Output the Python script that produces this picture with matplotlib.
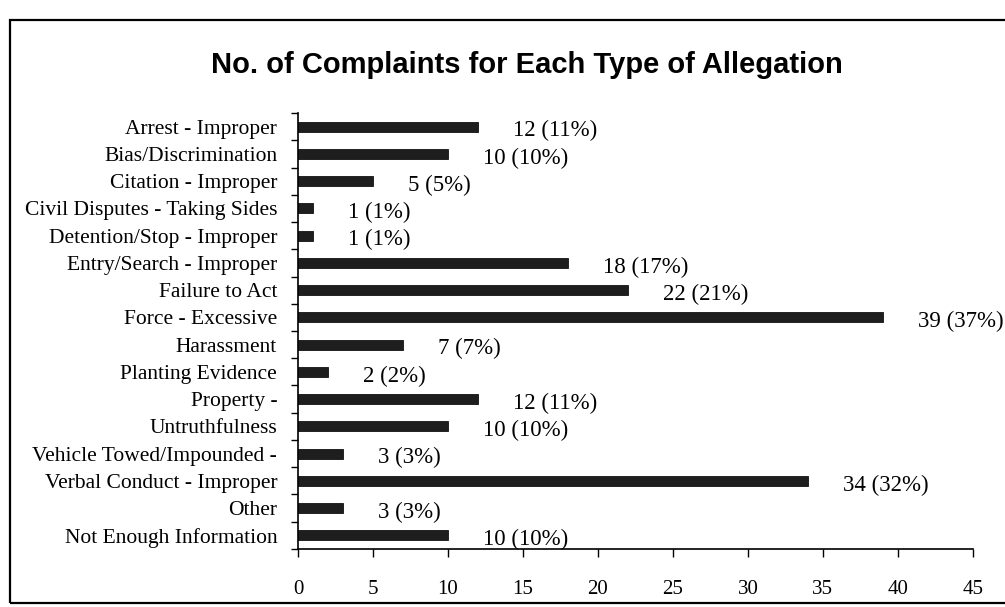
import numpy as np
import matplotlib.pyplot as plt
from matplotlib.patches import Rectangle

# Données
categories = [
    "Arrest - Improper",
    "Bias/Discrimination",
    "Citation - Improper",
    "Civil Disputes - Taking Sides",
    "Detention/Stop - Improper",
    "Entry/Search - Improper",
    "Failure to Act",
    "Force - Excessive",
    "Harassment",
    "Planting Evidence",
    "Property -",
    "Untruthfulness",
    "Vehicle Towed/Impounded -",
    "Verbal Conduct - Improper",
    "Other",
    "Not Enough Information",
]
counts = [12, 10, 5, 1, 1, 18, 22, 39, 7, 2, 12, 10, 3, 34, 3, 10]
percents = [11, 10, 5, 1, 1, 17, 21, 37, 7, 2, 11, 10, 3, 32, 3, 10]
x_ticks = [0, 5, 10, 15, 20, 25, 30, 35, 40, 45]

serif = "Liberation Serif"

fig = plt.figure(figsize=(10.05, 6.07), dpi=100)
ax = fig.add_axes([0.2965, 0.0956, 0.6715, 0.7182])

y = np.arange(len(categories))
ax.barh(y, counts, height=0.36, color="#1e1e1e", edgecolor="#111111", linewidth=0.6)

# Étiquettes de valeur à droite des barres
for yi, c, p in zip(y, counts, percents):
    ax.annotate(f"{c} ({p}%)", xy=(c, yi), xytext=(25, -3), textcoords="offset points",
                ha="left", va="center", fontsize=16.5, family=serif)

ax.set_xlim(0, 45)
ax.set_ylim(len(categories) - 0.5, -0.5)
ax.set_xticks(x_ticks)
ax.set_xticklabels([str(t) for t in x_ticks], fontsize=15, family=serif)
ax.tick_params(axis="x", direction="out", length=6, width=1, pad=16)

# Libellés au centre, traits de graduation aux limites
ax.set_yticks(y)
ax.set_yticklabels(categories, fontsize=15.5, family=serif)
ax.set_yticks(np.arange(len(categories) + 1) - 0.5, minor=True)
ax.tick_params(axis="y", which="major", length=0, pad=15)
ax.tick_params(axis="y", which="minor", direction="out", length=5, width=1)

ax.spines["top"].set_visible(False)
ax.spines["right"].set_visible(False)
ax.spines["left"].set_linewidth(1.2)
ax.spines["bottom"].set_linewidth(1.2)

fig.text(0.524, 0.893, "No. of Complaints for Each Type of Allegation",
         ha="center", va="center", fontsize=21, fontweight="bold", family="Liberation Sans")

# Cadre autour du graphique
frame = Rectangle((10 / 1005, 1 - 603 / 607), 1.02, (603 - 20) / 607,
                  transform=fig.transFigure, fill=False, edgecolor="black", linewidth=1.6)
fig.patches.append(frame)

fig.savefig("out.png", dpi=100)
